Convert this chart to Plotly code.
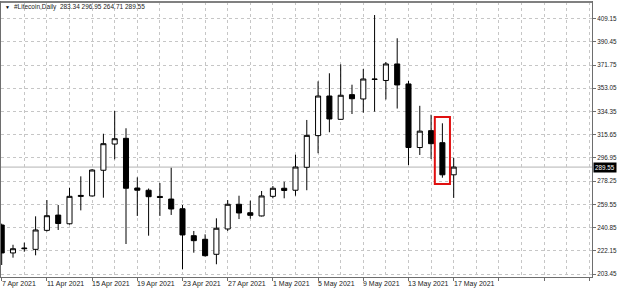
import pandas as pd
import plotly.graph_objects as go

dates = pd.date_range("2021-04-07", "2021-05-17", freq="D")
opens = [242.9, 220.4, 223.8, 223.3, 238.6, 250.9, 243.9, 265.9, 266.3, 287.0,
         308.1, 312.7, 272.7, 270.9, 265.9, 263.8, 256.0, 234.3, 231.4, 219.3,
         239.7, 259.6, 252.8, 250.2, 266.0, 272.5, 270.9, 289.4, 314.9, 346.8,
         328.0, 347.9, 344.4, 360.5, 359.3, 372.6, 356.5, 305.3, 318.9, 309.2,
         283.34]
highs = [244.0, 227.0, 228.7, 249.9, 263.0, 259.0, 272.9, 282.1, 288.0, 316.4,
         334.7, 320.8, 281.3, 272.3, 276.7, 289.0, 259.0, 238.1, 235.4, 248.3,
         263.0, 266.5, 262.5, 270.3, 274.3, 277.7, 299.5, 327.5, 358.6, 365.1,
         372.3, 355.9, 368.5, 412.0, 374.2, 393.3, 358.9, 338.9, 331.7, 324.8,
         296.95]
lows = [210.7, 216.6, 221.4, 218.5, 237.7, 238.9, 243.3, 254.7, 265.9, 264.9,
        295.8, 227.6, 250.2, 234.3, 250.2, 251.0, 207.2, 220.6, 217.5, 211.3,
        238.1, 247.7, 248.0, 249.8, 264.4, 264.4, 266.5, 270.9, 300.7, 317.6,
        327.7, 332.3, 333.4, 334.2, 344.0, 336.7, 291.2, 299.3, 296.1, 281.0,
        264.71]
closes = [220.4, 223.8, 224.2, 238.9, 250.4, 244.1, 266.0, 266.7, 287.2, 308.4,
          312.4, 272.5, 270.9, 265.7, 265.1, 255.8, 234.9, 230.3, 218.2, 240.3,
          259.6, 252.6, 250.7, 266.3, 272.5, 270.7, 289.6, 315.1, 346.8, 328.3,
          347.4, 344.6, 360.5, 360.2, 372.6, 355.7, 305.3, 318.5, 308.4, 283.34,
          289.55]

y_ticks = [203.45 + 18.7 * k for k in range(12)]
y_ticktext = [f"{v:.2f}" for v in y_ticks]
x_label_dates = pd.date_range("2021-04-07", "2021-05-17", freq="4D")
x_labels = [f"{d.day} {d.strftime('%b %Y')}" for d in x_label_dates]
symbol_title = "#Litecoin,Daily"
last_price = closes[-1]
highlight_index = 39

FONT = "Liberation Sans"
GRID = "#c6c6c6"
AX = "#6e6e6e"

fig = go.Figure()
fig.add_trace(go.Candlestick(
    x=dates, open=opens, high=highs, low=lows, close=closes,
    increasing=dict(line=dict(color="black", width=1), fillcolor="white"),
    decreasing=dict(line=dict(color="black", width=1), fillcolor="black"),
    whiskerwidth=0, hoverinfo="skip", showlegend=False,
))

day = pd.Timedelta(days=1)
x0 = dates[0] - 0.062 * day
x1 = dates[0] + 52.24 * day

fig.update_layout(
    width=620, height=291,
    margin=dict(l=1, r=28, t=2, b=14),
    paper_bgcolor="white", plot_bgcolor="white",
    boxgap=0.36,
    font=dict(family=FONT, size=6.5, color="#222"),
    xaxis=dict(
        type="date", range=[x0, x1], rangeslider=dict(visible=False),
        tick0=dates[0], dtick=4 * 86400000,
        showticklabels=False, ticks="outside", ticklen=3, tickcolor=AX,
        showgrid=True, gridcolor=GRID, griddash="dot", gridwidth=1,
        minor=dict(dtick=2 * 86400000, tick0=dates[0], showgrid=True,
                   gridcolor=GRID, griddash="dot", gridwidth=1, ticks=""),
        showline=True, linecolor=AX, linewidth=1, mirror=True,
        zeroline=False, fixedrange=True,
    ),
    yaxis=dict(
        side="right", range=[201.03, 422.5],
        tickvals=y_ticks, ticktext=y_ticktext,
        ticks="outside", ticklen=3, tickcolor=AX,
        tickfont=dict(family=FONT, size=6.3, color="#222"),
        showgrid=True, gridcolor=GRID, griddash="dot", gridwidth=1,
        showline=True, linecolor=AX, linewidth=1, mirror=True,
        zeroline=False, fixedrange=True,
    ),
)

# current price line
fig.add_shape(type="line", xref="paper", x0=0, x1=1, y0=last_price, y1=last_price,
              line=dict(color="#b4b4b4", width=1), layer="below")

# top frame line (slightly heavier, as in the terminal window)
fig.add_shape(type="line", xref="paper", yref="paper", x0=0, x1=1, y0=1, y1=1,
              line=dict(color="#808080", width=2))

# highlight rectangle around candle
hd = dates[highlight_index]
fig.add_shape(type="rect", x0=hd - 0.67 * day, x1=hd + 0.67 * day,
              y0=lows[highlight_index] - 5, y1=highs[highlight_index] + 5,
              line=dict(color="#e01010", width=2), fillcolor="rgba(0,0,0,0)")

# x labels, left-aligned at tick
for d, t in zip(x_label_dates, x_labels):
    fig.add_annotation(x=d, y=0, xref="x", yref="paper", text=t, showarrow=False,
                       xanchor="left", yanchor="top", yshift=-1, xshift=-2,
                       font=dict(family=FONT, size=7, color="#222"))

# price label
fig.add_annotation(x=1, y=last_price, xref="paper", yref="y", text=f"{last_price:.2f}",
                   showarrow=False, xanchor="left", yanchor="middle", xshift=1,
                   bgcolor="black", borderpad=1,
                   font=dict(family=FONT, size=6.3, color="white"))

# title
fig.add_annotation(x=0, y=1, xref="paper", yref="paper", text="▼", showarrow=False,
                   xanchor="left", yanchor="middle", xshift=2, yshift=-5,
                   font=dict(family=FONT, size=5, color="black"))
fig.add_annotation(x=0, y=1, xref="paper", yref="paper",
                   text=f"{symbol_title}  {opens[-1]:.2f} {highs[-1]:.2f} {lows[-1]:.2f} {closes[-1]:.2f}",
                   showarrow=False, xanchor="left", yanchor="middle", xshift=11, yshift=-5,
                   font=dict(family=FONT, size=6.5, color="#222"))

fig.write_html("out.html")
